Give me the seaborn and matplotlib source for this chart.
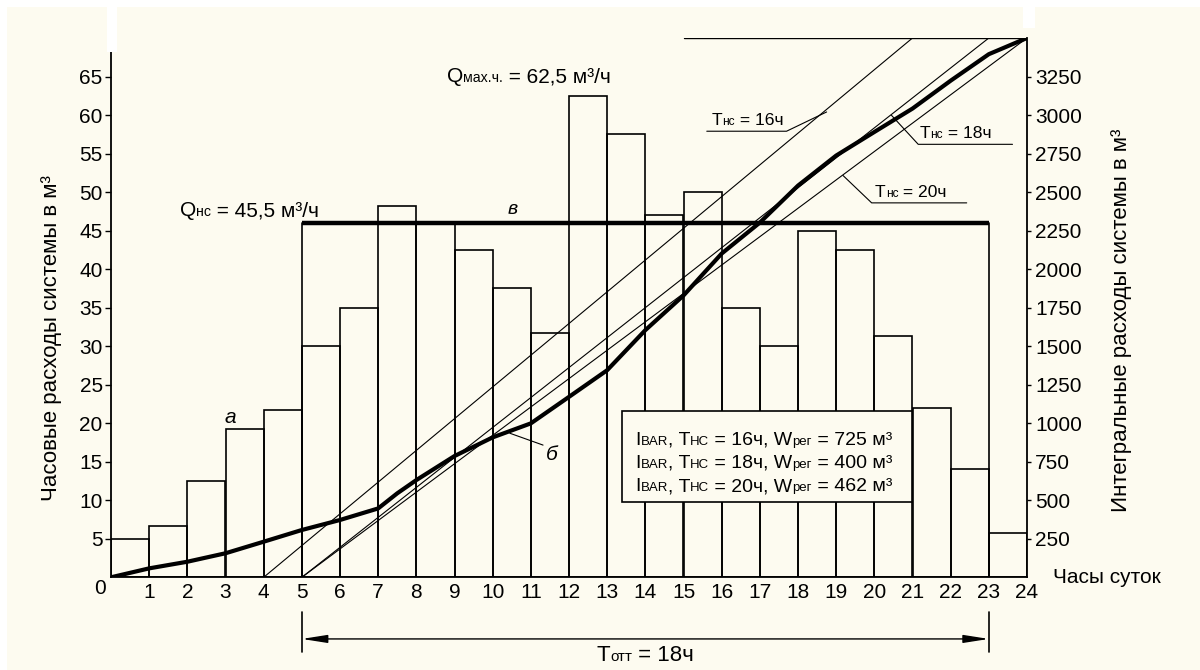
import numpy as np
import pandas as pd
import matplotlib
matplotlib.use("Agg")
import matplotlib.pyplot as plt
from matplotlib.patches import Rectangle
from matplotlib.offsetbox import TextArea, HPacker, AnnotationBbox
import seaborn as sns

# --- datos ---
horas = list(range(24))
consumo_horario = [5, 6.7, 12.5, 19.2, 21.7, 30, 35, 48.2, 46, 42.5, 37.5, 31.7,
                   62.5, 57.5, 47, 50, 35, 30, 45, 42.5, 31.3, 22, 14.1, 5.8]
curva_horas = [0, 1, 2, 3, 4, 5, 6, 7, 7.5, 8, 9, 10, 11, 11.5, 12, 13, 14,
               15, 16, 17, 18, 19, 20, 21, 22, 23, 24]
curva_integral = [0, 58, 101, 156, 231, 307, 372, 447, 545, 631, 787, 908, 999,
                  1085, 1171, 1344, 1604, 1829, 2101, 2302, 2542, 2737, 2890,
                  3042, 3223, 3395, 3500]
bombeo_inicio = [4, 5, 5]       # Тнс = 16, 18, 20 ч
bombeo_fin = [21, 23, 24]
total_integral = 3500
linea_superior = [15, 24]
q_nc_nivel = 46
t_ott = [5, 23]
yticks_izq = list(range(5, 70, 5))
yticks_der = list(range(250, 3500, 250))

CREMA = '#FDFBF0'
NEGRO = 'black'

sns.set_theme(style="white")
plt.rcParams['font.family'] = ['Liberation Sans', 'DejaVu Sans']
plt.rcParams['text.color'] = NEGRO
plt.rcParams['xtick.color'] = NEGRO
plt.rcParams['ytick.color'] = NEGRO
plt.rcParams['axes.edgecolor'] = NEGRO

W, H = 1200, 670
fig = plt.figure(figsize=(12, 6.7), dpi=100, facecolor=CREMA)
ax = fig.add_axes([111 / W, 1 - 577.3 / H, 916 / W, 539.3 / H])
ax.set_facecolor(CREMA)
ax2 = ax.twinx()

# barras horarias
df_horas = pd.DataFrame({'centro': [h + 0.5 for h in horas], 'consumo': consumo_horario})
sns.histplot(data=df_horas, x='centro', weights='consumo', bins=len(horas), binrange=(0, 24),
             fill=False, color=NEGRO, linewidth=1.2, ax=ax, zorder=2)

# rectángulo Qнс
ax.plot(t_ott, [q_nc_nivel, q_nc_nivel], color=NEGRO, lw=3.2, zorder=4, solid_capstyle='butt')
for xv in t_ott:
    ax.plot([xv, xv], [0, q_nc_nivel], color=NEGRO, lw=1.2, zorder=4)
    ax.plot([xv, xv], [-4.45, -9.65], color=NEGRO, lw=1.2, clip_on=False)
ax.annotate("", xy=(t_ott[0], -8.0), xytext=(t_ott[1], -8.0), annotation_clip=False,
            arrowprops=dict(arrowstyle="<|-|>,head_length=1.4,head_width=0.22",
                            color=NEGRO, lw=1, shrinkA=0, shrinkB=0, mutation_scale=11))

# curva integral y rectas de bombeo
df_curva = pd.DataFrame({'hora': curva_horas, 'integral': curva_integral})
sns.lineplot(data=df_curva, x='hora', y='integral', ax=ax2, color=NEGRO, linewidth=3.0, sort=False)
for s, e in zip(bombeo_inicio, bombeo_fin):
    sns.lineplot(x=[s, e], y=[0, total_integral], ax=ax2, color=NEGRO, linewidth=0.8)
ax2.plot(linea_superior, [total_integral, total_integral], color=NEGRO, lw=1)

ax.set_xlim(0, 24)
ax.set_ylim(0, 70)
ax2.set_ylim(0, total_integral)
ax.set_ylabel("")
ax.set_xlabel("")
ax2.set_ylabel("")
ax2.set_xlabel("")

for a in (ax, ax2):
    for sp in a.spines.values():
        sp.set_visible(False)
        sp.set_linewidth(1.3)
ax.spines['left'].set_visible(True)
ax.spines['bottom'].set_visible(True)
ax2.spines['right'].set_visible(True)

ax.set_xticks(range(25))
ax.set_xticklabels([''] + [str(h) for h in range(1, 25)])
ax.tick_params(axis='x', length=0, pad=4, labelsize=15)
ax.set_yticks(yticks_izq)
ax.tick_params(axis='y', left=True, direction='out', length=4, width=1, pad=2, labelsize=15)
ax2.set_yticks(yticks_der)
ax2.tick_params(axis='y', right=True, direction='out', length=3, width=1, pad=3, labelsize=15)
ax.annotate("0", xy=(0, 0), xytext=(-11, -11), textcoords='offset pixels',
            ha='center', va='center', fontsize=15, annotation_clip=False)
ax.annotate("Часы суток", xy=(24, 0), xytext=(26, 0), textcoords='offset pixels',
            ha='left', va='center', fontsize=15, annotation_clip=False)

fig.text(51 / W, 1 - 338 / H, "Часовые расходы системы в м³", rotation=90,
         ha='center', va='center', fontsize=16)
fig.text(1121 / W, 1 - 320 / H, "Интегральные расходы системы в м³", rotation=90,
         ha='center', va='center', fontsize=16)


def rico(partes, xy, size, align=(0.0, 0.5), chico=0.68):
    hijos = [TextArea(t, textprops=dict(fontsize=size if grande else size * chico, color=NEGRO))
             for t, grande in partes]
    caja = HPacker(children=hijos, align='baseline', pad=0, sep=0)
    ab = AnnotationBbox(caja, xy, xycoords='data', box_alignment=align, frameon=False,
                        pad=0, annotation_clip=False, zorder=7)
    ax.add_artist(ab)


rico([("Q", 1), ("нс", 0), (" = 45,5 м³/ч", 1)], (1.81, 47.6), 15)
rico([("Q", 1), ("мах.ч.", 0), (" = 62,5 м³/ч", 1)], (8.80, 65.0), 15)
rico([("Т", 1), ("нс", 0), (" = 16ч", 1)], (15.73, 59.3), 12.6)
rico([("Т", 1), ("нс", 0), (" = 18ч", 1)], (21.19, 57.6), 12.6)
rico([("Т", 1), ("нс", 0), (" = 20ч", 1)], (20.02, 49.9), 12.6)
rico([("Т", 1), ("отт", 0), (" = 18ч", 1)], (12.72, -10.2), 16)

# subrayados y guías de las etiquetas
ax.plot([15.61, 17.70, 18.75], [57.9, 57.9, 60.4], color=NEGRO, lw=0.8)
ax.plot([23.62, 21.15, 20.45], [56.2, 56.2, 59.96], color=NEGRO, lw=0.8)
ax.plot([22.42, 19.93, 19.18], [48.6, 48.6, 52.15], color=NEGRO, lw=0.8)
ax.plot([10.45, 11.32], [18.7, 17.16], color=NEGRO, lw=0.8)

ax.text(3.14, 20.7, "а", fontsize=15, style='italic', ha='center', va='center')
ax.text(11.55, 16.0, "б", fontsize=15, style='italic', ha='center', va='center')
ax.text(10.53, 46.6, "в", fontsize=14, style='italic', ha='center', va='bottom')

# recuadro de resultados
ax.add_patch(Rectangle((13.38, 9.73), 7.6, 11.84, facecolor=CREMA, edgecolor=NEGRO,
                       lw=1.2, zorder=5))
for yv, t, w in [(17.8, "16", "725"), (14.8, "18", "400"), (11.76, "20", "462")]:
    rico([("I", 1), ("BAR", 0), (", Т", 1), ("НС", 0), (f" = {t}ч, W", 1), ("рег", 0),
          (f" = {w} м³", 1)], (13.73, yv), 14)

# bordes blancos de la imagen original
for (x0, y0, x1, y1) in [(0, 0, W, 7), (0, 0, 7, H), (107, 0, 117, 52), (1023, 0, 1035, 28)]:
    fig.add_artist(Rectangle((x0 / W, 1 - y1 / H), (x1 - x0) / W, (y1 - y0) / H,
                             transform=fig.transFigure, facecolor='white',
                             edgecolor='none', zorder=20))

fig.savefig("out.png", dpi=100, facecolor=fig.get_facecolor())
